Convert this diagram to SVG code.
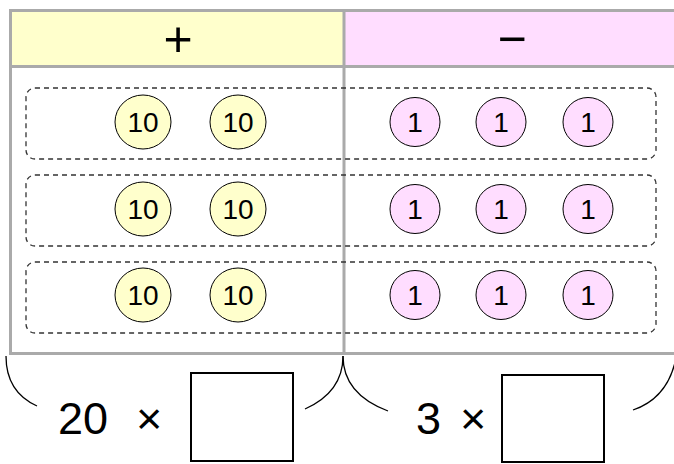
<svg xmlns="http://www.w3.org/2000/svg" width="674" height="464" viewBox="0 0 674 464">
<style>
.frame{fill:none;stroke:#aaaaaa;stroke-width:3}
.row{fill:none;stroke:#333;stroke-width:1.3;stroke-dasharray:5,4}
.ten{fill:#ffffcc;stroke:#000;stroke-width:1}
.one{fill:#ffddff;stroke:#000;stroke-width:1}
.ct{font-family:"Liberation Sans",Arial,sans-serif;font-size:28px;text-anchor:middle;fill:#000}
.big{font-family:"Liberation Sans",Arial,sans-serif;font-size:45px;fill:#000}
.hd{font-family:"Liberation Sans",Arial,sans-serif;font-size:50px;text-anchor:middle;fill:#000}
.br{fill:none;stroke:#000;stroke-width:1.3}
.box{fill:#fff;stroke:#000;stroke-width:2}
</style>
<rect width="674" height="464" fill="#fff"/>
<g id="header">
<rect x="10" y="10" width="334" height="56" fill="#ffffcc"/>
<rect x="344" y="10" width="332" height="56" fill="#ffddff"/>
<text class="hd" x="178" y="56">+</text>
<text class="hd" x="512" y="56">−</text>
</g>
<g id="table">
<path class="frame" d="M676,10.5 H10.5 V353.5 H676 M10.5,66.5 H676 M344,10 V353"/>
</g>
<g id="rows">
<rect class="row" x="26" y="88" width="630" height="71" rx="9"/>
<rect class="row" x="26" y="175" width="630" height="71" rx="9"/>
<rect class="row" x="26" y="262" width="630" height="71" rx="9"/>
</g>
<g id="row1">
<ellipse class="ten" cx="143" cy="122" rx="28" ry="27"/><text class="ct" x="143" y="132">10</text>
<ellipse class="ten" cx="238" cy="122" rx="28" ry="27"/><text class="ct" x="238" y="132">10</text>
<ellipse class="one" cx="415" cy="122" rx="25" ry="24.5"/><text class="ct" x="415" y="132">1</text>
<ellipse class="one" cx="501" cy="122" rx="25" ry="24.5"/><text class="ct" x="501" y="132">1</text>
<ellipse class="one" cx="588" cy="122" rx="25" ry="24.5"/><text class="ct" x="588" y="132">1</text>
</g>
<g id="row2">
<ellipse class="ten" cx="143" cy="209" rx="28" ry="27"/><text class="ct" x="143" y="219">10</text>
<ellipse class="ten" cx="238" cy="209" rx="28" ry="27"/><text class="ct" x="238" y="219">10</text>
<ellipse class="one" cx="415" cy="209" rx="25" ry="24.5"/><text class="ct" x="415" y="219">1</text>
<ellipse class="one" cx="501" cy="209" rx="25" ry="24.5"/><text class="ct" x="501" y="219">1</text>
<ellipse class="one" cx="588" cy="209" rx="25" ry="24.5"/><text class="ct" x="588" y="219">1</text>
</g>
<g id="row3">
<ellipse class="ten" cx="143" cy="295" rx="28" ry="27"/><text class="ct" x="143" y="305">10</text>
<ellipse class="ten" cx="238" cy="295" rx="28" ry="27"/><text class="ct" x="238" y="305">10</text>
<ellipse class="one" cx="415" cy="295" rx="25" ry="24.5"/><text class="ct" x="415" y="305">1</text>
<ellipse class="one" cx="501" cy="295" rx="25" ry="24.5"/><text class="ct" x="501" y="305">1</text>
<ellipse class="one" cx="588" cy="295" rx="25" ry="24.5"/><text class="ct" x="588" y="305">1</text>
</g>
<g id="braces">
<path class="br" d="M6,356 Q6,392 37,406"/>
<path class="br" d="M343,356 Q343,392 305,409"/>
<path class="br" d="M343,356 Q343,394 388,411"/>
<path class="br" d="M676,358 Q668,398 633,410"/>
</g>
<g id="expr1">
<text class="big" x="58" y="434">20 <tspan x="136">×</tspan></text>
<rect class="box" x="191" y="373" width="102" height="88"/>
</g>
<g id="expr2">
<text class="big" x="416" y="434">3 <tspan x="460">×</tspan></text>
<rect class="box" x="502" y="375" width="102" height="87"/>
</g>
</svg>
